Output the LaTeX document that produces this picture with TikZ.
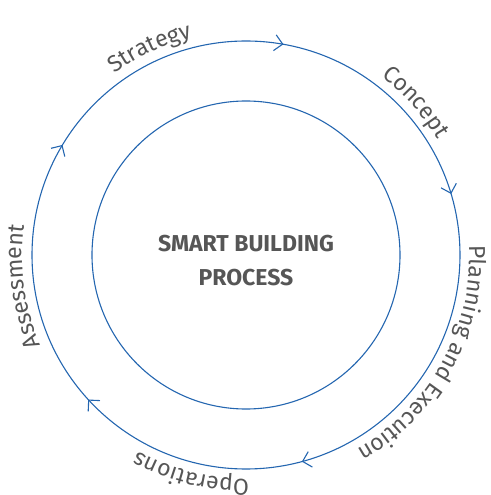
\documentclass[tikz,border=0pt]{standalone}
\usepackage{fontspec}
\setmainfont{Fira Sans}
\usetikzlibrary{arrows.meta, decorations.markings, decorations.text}

\definecolor{ringblue}{HTML}{2466B0}
\definecolor{txtgrey}{HTML}{565656}

\newcommand{\phasefont}{\fontsize{23}{23}\selectfont\color{txtgrey}}

\tikzset{
  ring/.style={draw=ringblue, line width=1.1pt},
  core/.style={ring, circle, minimum size=308pt, inner sep=0pt},
  title/.style={align=center, font=\bfseries\fontsize{23}{34}\selectfont, text=txtgrey},
  flow/.style={ring, postaction={decorate}, decoration={markings,
    mark=at position 0.028 with {\arrow{Straight Barb[length=8pt, width=16pt]}},
    mark=at position 0.204 with {\arrow{Straight Barb[length=8pt, width=16pt]}},
    mark=at position 0.458 with {\arrow{Straight Barb[length=8pt, width=16pt]}},
    mark=at position 0.632 with {\arrow{Straight Barb[length=8pt, width=16pt]}},
    mark=at position 0.836 with {\arrow{Straight Barb[length=8pt, width=16pt]}}}},
  phase/.style={decorate, decoration={text along path, text align=center}}
}

\begin{document}
\begin{tikzpicture}[x=1pt, y=1pt]
\useasboundingbox (-246,-240) rectangle (244,255);

% inner circle with the title
\node[core] (process) at (0,0) {};
\node[title] (name) at (0,-6) {SMART BUILDING\\PROCESS};

% outer cycle, clockwise
\draw[flow] (90:214) arc[start angle=90, end angle=-270, radius=214];

% phase labels along the cycle
\path[phase, decoration={text={|\phasefont|Strategy}}]
  (145:224) arc[start angle=145, end angle=85, radius=224];
\path[phase, decoration={text={|\phasefont|Concept}}]
  (72:224) arc[start angle=72, end angle=12, radius=224];
\path[phase, decoration={text={|\phasefont|Planning and Execution}}]
  (24:224) arc[start angle=24, end angle=-82, radius=224];
\path[phase, decoration={text={|\phasefont|Operations}}]
  (-66:224) arc[start angle=-66, end angle=-142, radius=224];
\path[phase, decoration={text={|\phasefont|Assessment}}]
  (-134:224) arc[start angle=-134, end angle=-210, radius=224];
\end{tikzpicture}
\end{document}
